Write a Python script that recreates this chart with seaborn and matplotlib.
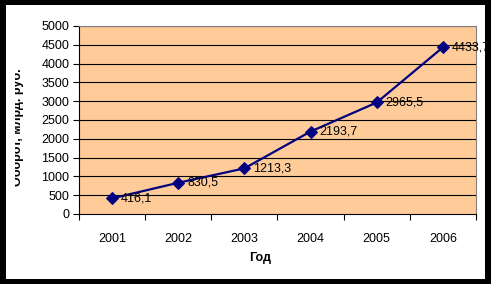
import matplotlib
matplotlib.use("Agg")
import matplotlib.pyplot as plt
import seaborn as sns
import pandas as pd
from matplotlib.patches import Rectangle
from matplotlib.ticker import FixedLocator
from matplotlib.transforms import Bbox, TransformedBbox

years = ["2001", "2002", "2003", "2004", "2005", "2006"]
values = [416.1, 830.5, 1213.3, 2193.7, 2965.5, 4433.7]
value_labels = ["416,1", "830,5", "1213,3", "2193,7", "2965,5", "4433,7"]
y_ticks = [0, 500, 1000, 1500, 2000, 2500, 3000, 3500, 4000, 4500, 5000]

sns.set_style("white")
plt.rcParams["font.family"] = ["Liberation Sans", "DejaVu Sans"]
plt.rcParams["text.color"] = "black"
plt.rcParams["xtick.color"] = "black"
plt.rcParams["ytick.color"] = "black"
plt.rcParams["axes.labelcolor"] = "black"

df = pd.DataFrame({"Год": years, "Оборот": values})

W, H = 491, 284
fig = plt.figure(figsize=(W / 100, H / 100), dpi=100, facecolor="black")
fig.patches.append(Rectangle((6 / W, 1 - 279 / H), (485 - 6) / W, (279 - 5) / H,
                             transform=fig.transFigure, facecolor="white",
                             edgecolor="none", zorder=-10))

ax = fig.add_axes([79 / W, 1 - 214 / H, (476 - 79) / W, (214 - 26) / H])
ax.set_facecolor("#FFCC99")

sns.lineplot(data=df, x="Год", y="Оборот", ax=ax, color="#000080", lw=1.6,
             marker="D", markersize=6, markeredgecolor="#000080",
             markerfacecolor="#000080", sort=False, zorder=5)

for i, (v, lab) in enumerate(zip(values, value_labels)):
    ax.annotate(lab, (i, v), xytext=(6.5, 0), textcoords="offset points",
                ha="left", va="center", fontsize=9, color="black", zorder=6)

ax.set_xlim(-0.5, len(years) - 0.5)
ax.set_ylim(0, 5000)
ax.set_yticks(y_ticks)
ax.set_yticklabels([str(t) for t in y_ticks], fontsize=9)
ax.set_xticks(range(len(years)))
ax.set_xticklabels(years, fontsize=9)
ax.xaxis.set_minor_locator(FixedLocator([i - 0.5 for i in range(len(years) + 1)]))
ax.tick_params(axis="x", which="major", length=0, pad=14)
ax.tick_params(axis="x", which="minor", length=4, width=0.8, color="black", direction="out", bottom=True)
ax.tick_params(axis="y", which="major", length=4, width=0.8, color="black", direction="out", left=True, pad=3)

ax.grid(False)
for t in y_ticks[1:]:
    ax.axhline(t, color="black", lw=0.8, zorder=1)

for s in ["top", "right"]:
    ax.spines[s].set_color("#808080")
    ax.spines[s].set_linewidth(0.8)
for s in ["left", "bottom"]:
    ax.spines[s].set_color("black")
    ax.spines[s].set_linewidth(0.8)

ax.set_xlabel("")
ax.set_ylabel("")
fig.text(260 / W, 1 - 258 / H, "Год", ha="center", va="center", fontsize=9,
         fontweight="bold", color="black")

ylab = fig.text(17.5 / W, 1 - 127 / H, "Оборот, млрд. руб.", rotation=90, ha="center",
                va="center", fontsize=9, fontweight="bold", color="black")
ylab.set_clip_box(TransformedBbox(Bbox([[15 / W, 0], [1, 1]]), fig.transFigure))
ylab.set_clip_on(True)

fig.savefig("out.png", dpi=100, facecolor="black")
